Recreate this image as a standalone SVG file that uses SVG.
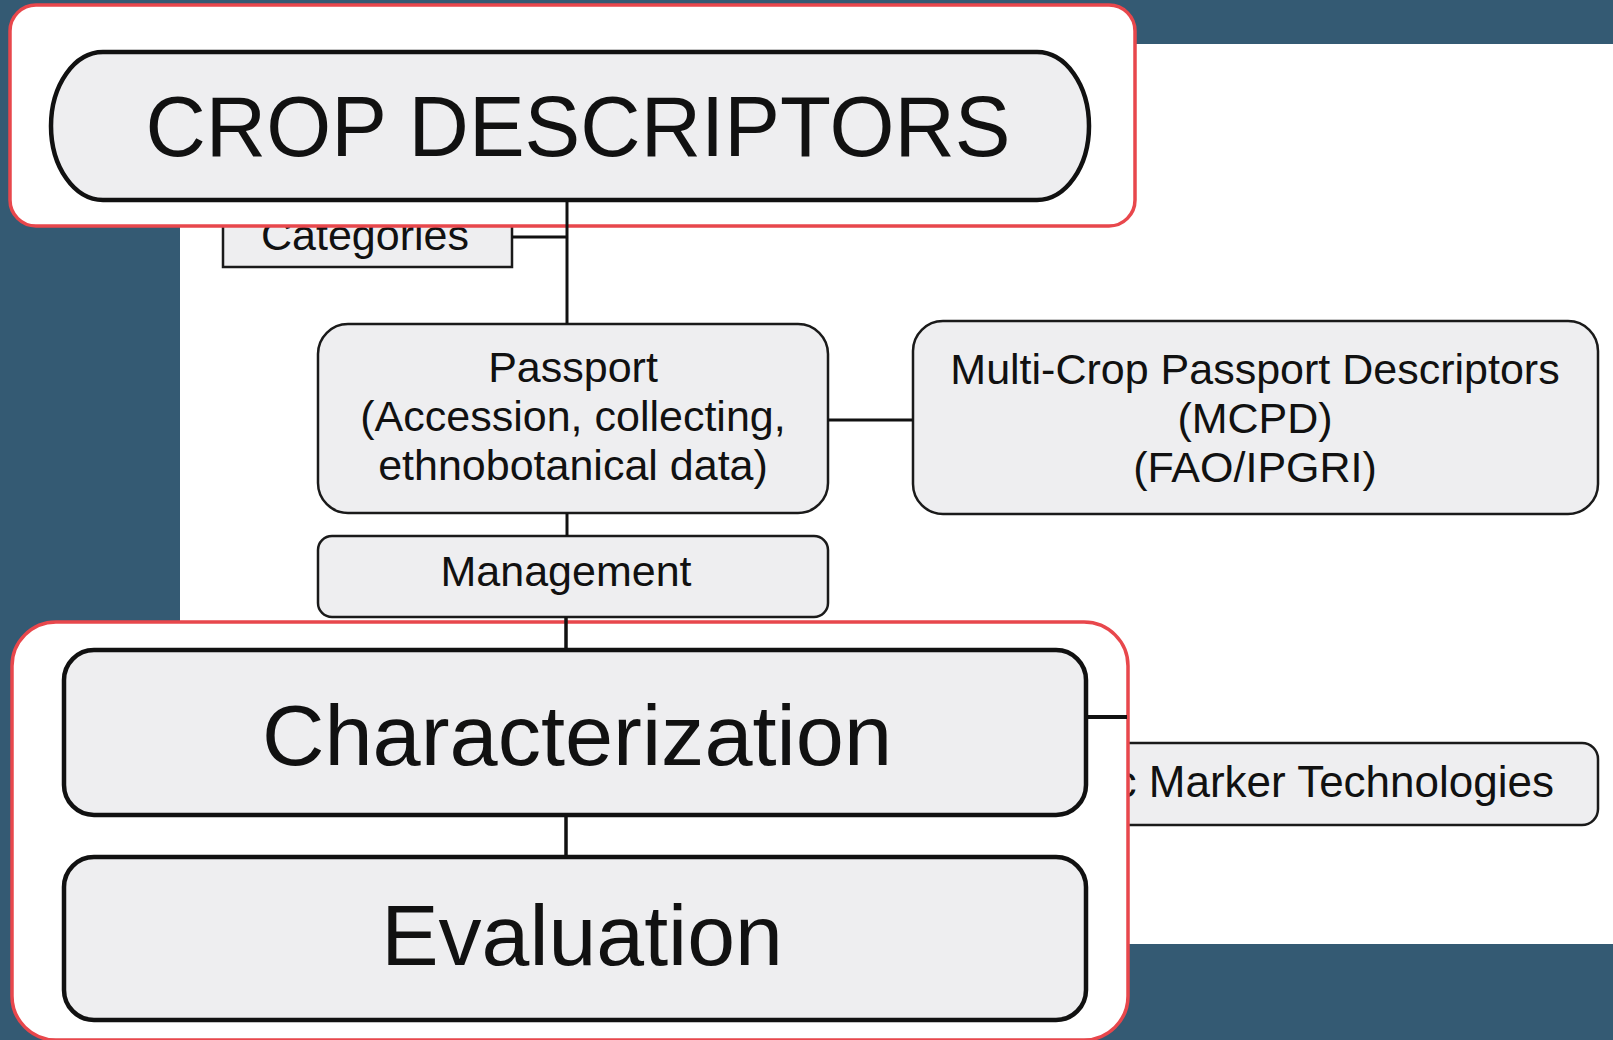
<svg xmlns="http://www.w3.org/2000/svg" width="1613" height="1040" viewBox="0 0 1613 1040">
<style>
text{font-family:"Liberation Sans",Arial,Helvetica,sans-serif;fill:#111;text-anchor:middle}
.thin{fill:#eeeef0;stroke:#1a1a1a;stroke-width:2.5}
.thick{fill:#eeeef0;stroke:#111;stroke-width:4.5}
.hl{fill:#fff;stroke:#e8474c;stroke-width:3.5}
.con{stroke:#111;stroke-width:3;fill:none}
.s43{font-size:43px}
.big{font-size:86px}
</style>
<rect x="0" y="0" width="1613" height="1040" fill="#345a73"/>
<rect x="180" y="44" width="1433" height="900" fill="#fff"/>
<g id="categories">
<rect class="thin" x="223" y="190" width="289" height="77"/>
<text class="s43" x="365" y="250">Categories</text>
</g>
<g id="passport">
<rect class="thin" x="318" y="324" width="510" height="189" rx="30"/>
<text class="s43" x="573" y="382">Passport</text>
<text class="s43" x="573" y="431">(Accession, collecting,</text>
<text class="s43" x="573" y="480">ethnobotanical data)</text>
</g>
<g id="mcpd">
<rect class="thin" x="913" y="321" width="685" height="193" rx="30"/>
<text class="s43" x="1255" y="384">Multi-Crop Passport Descriptors</text>
<text class="s43" x="1255" y="433">(MCPD)</text>
<text class="s43" x="1255" y="482">(FAO/IPGRI)</text>
</g>
<g id="management">
<rect class="thin" x="318" y="536" width="510" height="81" rx="14"/>
<text class="s43" x="566" y="586">Management</text>
</g>
<g id="marker">
<rect class="thin" x="1090" y="743" width="508" height="82" rx="16"/>
<text x="1554" y="797" style="text-anchor:end;font-size:44px">c Marker Technologies</text>
</g>
<g id="highlight-top"><rect class="hl" x="10" y="5" width="1125" height="221" rx="26"/></g>
<g id="highlight-bottom"><rect class="hl" x="12" y="622" width="1116" height="418" rx="44"/></g>
<g id="connectors">
<line class="con" x1="567" y1="200" x2="567" y2="324"/>
<line class="con" x1="512" y1="237" x2="567" y2="237"/>
<line class="con" x1="828" y1="420" x2="913" y2="420"/>
<line class="con" x1="567" y1="513" x2="567" y2="536"/>
<line class="con" x1="566" y1="617" x2="566" y2="650" style="stroke-width:3.5"/>
<line class="con" x1="566" y1="815" x2="566" y2="857" style="stroke-width:3.5"/>
<line class="con" x1="1086" y1="717" x2="1127" y2="717" style="stroke-width:4"/>
</g>
<g id="crop-descriptors">
<rect class="thick" x="51" y="52" width="1038" height="148" rx="52" ry="74"/>
<text x="578" y="156" style="font-size:85px" textLength="865" lengthAdjust="spacingAndGlyphs">CROP DESCRIPTORS</text>
</g>
<g id="characterization">
<rect class="thick" x="64" y="650" width="1022" height="165" rx="30"/>
<text class="big" x="577" y="765" textLength="630" lengthAdjust="spacingAndGlyphs">Characterization</text>
</g>
<g id="evaluation">
<rect class="thick" x="64" y="857" width="1022" height="163" rx="30"/>
<text class="big" x="582" y="965">Evaluation</text>
</g>
</svg>
